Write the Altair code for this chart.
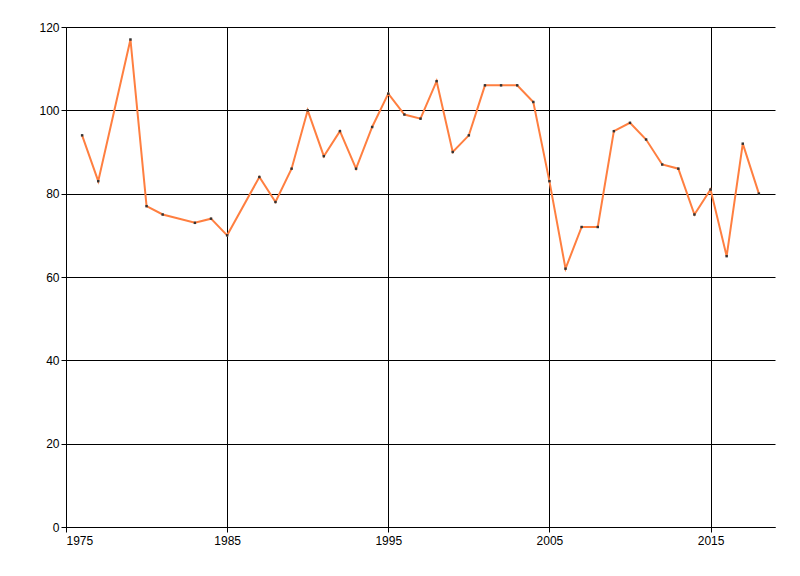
import altair as alt
import pandas as pd

years = [1976, 1977, 1979, 1980, 1981, 1983, 1984, 1985, 1987, 1988, 1989, 1990,
         1991, 1992, 1993, 1994, 1995, 1996, 1997, 1998, 1999, 2000, 2001, 2002,
         2003, 2004, 2005, 2006, 2007, 2008, 2009, 2010, 2011, 2012, 2013, 2014,
         2015, 2016, 2017, 2018]
values = [94, 83, 117, 77, 75, 73, 74, 70, 84, 78, 86, 100,
          89, 95, 86, 96, 104, 99, 98, 107, 90, 94, 106, 106,
          106, 102, 83, 62, 72, 72, 95, 97, 93, 87, 86, 75,
          81, 65, 92, 80]
x_ticks = [1975, 1985, 1995, 2005, 2015]
y_ticks = [0, 20, 40, 60, 80, 100, 120]

df = pd.DataFrame({"year": years, "value": values})

x = alt.X("year:Q", scale=alt.Scale(domain=[1975, 2019], nice=False, zero=False),
          axis=alt.Axis(values=x_ticks, format="d", title=None, grid=True,
                        gridColor="black", gridOpacity=1, gridWidth=1,
                        domainColor="black", domainWidth=1, tickColor="black",
                        tickSize=5, labelColor="black", labelFont="Liberation Sans",
                        labelFontSize=12, labelPadding=3))
y = alt.Y("value:Q", scale=alt.Scale(domain=[0, 120], nice=False),
          axis=alt.Axis(values=y_ticks, title=None, grid=True,
                        gridColor="black", gridOpacity=1, gridWidth=1,
                        domainColor="black", domainWidth=1, tickColor="black",
                        tickSize=5, labelColor="black", labelFont="Liberation Sans",
                        labelFontSize=12, labelPadding=2))

base = alt.Chart(df).encode(x=x, y=y)
line = base.mark_line(color="#FF7F40", strokeWidth=2)
pts = base.mark_point(shape="square", filled=True, size=6, color="#333333", opacity=1)

chart = alt.layer(line, pts).properties(
    width=709, height=500,
    background="white",
    view=alt.ViewBackground(stroke="transparent", strokeOpacity=0, strokeWidth=0),
    autosize=alt.AutoSizeParams(type="none"),
    padding={"left": 58, "top": 19, "right": 10, "bottom": 30},
).configure_view(stroke="transparent", strokeOpacity=0, strokeWidth=0)

chart.save("out.html", embed_options={"renderer": "svg", "actions": False})
